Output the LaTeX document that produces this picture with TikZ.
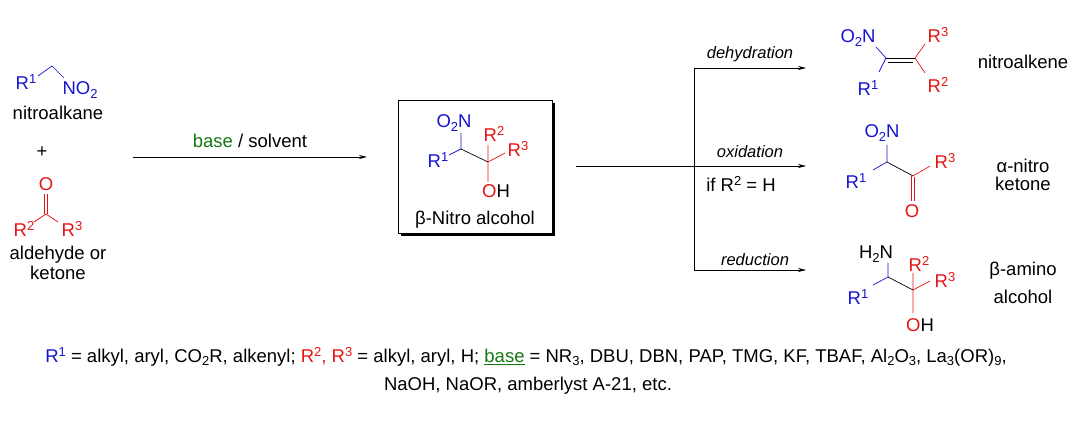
\documentclass[tikz,border=0pt]{standalone}
\usepackage{fontspec}
\setmainfont{Liberation Sans}
\usetikzlibrary{arrows.meta}
\definecolor{bl}{RGB}{20,20,210}
\definecolor{rd}{RGB}{230,20,20}
\definecolor{gr}{RGB}{20,120,20}
\newcommand{\Sp}[1]{\raisebox{0.6ex}{\fontsize{13}{14}\selectfont #1}}
\newcommand{\Sb}[1]{\raisebox{-0.35ex}{\fontsize{13}{14}\selectfont #1}}
\begin{document}
\begin{tikzpicture}[x=1pt,y=-1pt,font=\fontsize{18.5}{22}\selectfont,
  every node/.style={inner sep=0pt},
  b/.style={text=bl}, r/.style={text=rd},
  bb/.style={draw=bl,line width=0.7pt}, rb/.style={draw=rd,line width=0.7pt}, kb/.style={draw=black,line width=0.7pt},
  arr/.style={draw=black,line width=0.7pt,-{Stealth[length=8pt,width=4pt]}},
  it/.style={font=\fontsize{16.5}{18}\selectfont\itshape}]
\useasboundingbox (0,0) rectangle (1081,427);
% nitroalkane
\node[b] (r1a) at (26,82) {R\Sp{1}};
\node[b] (no2a) at (80,90) {NO\Sb{2}};
\coordinate (ca) at (52,66);
\draw[bb] (38,76) -- (ca) -- (64,78);
\node (t1) at (58,113) {nitroalkane};
\node (plus) at (42,152) {+};
% ketone
\node[r] (oa) at (46,184) {O};
\coordinate (kc) at (46,214);
\draw[rb] (44.5,194) -- (44.5,214) (47.5,194) -- (47.5,214);
\draw[rb] (34,222) -- (kc) -- (58,222);
\node[r] (r2a) at (24,229) {R\Sp{2}};
\node[r] (r3a) at (72,229) {R\Sp{3}};
\node (t2) at (58,255) {aldehyde or};
\node (t3) at (58,273) {ketone};
% main arrow
\coordinate (m1) at (133,157); \coordinate (m2) at (367,157);
\draw[arr] (m1) -- (m2);
\node (bs) at (250,141) {\textcolor{gr}{base} / solvent};
% box
\fill (401,103) rectangle (555,236);
\draw[fill=white,line width=0.8pt] (398,100) rectangle (552,233);
\node[b] (o2nb) at (454,123) {O\Sb{2}N};
\node[b] (r1b) at (438,160) {R\Sp{1}};
\node[r] (r2b) at (494,134) {R\Sp{2}};
\node[r] (r3b) at (518,149) {R\Sp{3}};
\node (ohb) at (496,191) {\textcolor{rd}{O}H};
\coordinate (c1b) at (461,149); \coordinate (c2b) at (488,162);
\draw[bb] (461,133) -- (c1b) -- (449,155);
\draw[kb] (c1b) -- (c2b);
\draw[rb] (488,145) -- (c2b) -- (505,153) (c2b) -- (488,182);
\node (tb) at (475,220) {β-Nitro alcohol};
% branching
\coordinate (s1) at (576,166); \coordinate (j) at (694,166);
\coordinate (ja) at (694,68); \coordinate (jc) at (694,270);
\draw[kb] (s1) -- (j) (ja) -- (jc);
\coordinate (ea) at (806,68); \coordinate (eb) at (806,166); \coordinate (ec) at (806,270);
\draw[arr] (ja) -- (ea);
\draw[arr] (j) -- (eb);
\draw[arr] (jc) -- (ec);
\node[it] (la) at (750,54) {dehydration};
\node[it] (lb) at (750,152) {oxidation};
\node (lb2) at (741,184) {if R\Sp{2} = H};
\node[it] (lc) at (755,260) {reduction};
% nitroalkene
\node[b] (o2nc) at (858,38) {O\Sb{2}N};
\node[b] (r1c) at (868,88) {R\Sp{1}};
\node[r] (r3c) at (938,35) {R\Sp{3}};
\node[r] (r2c) at (938,85) {R\Sp{2}};
\coordinate (cc1) at (886,58); \coordinate (cc2) at (915,58);
\draw[bb] (876,47) -- (cc1) -- (879,72);
\draw[kb] (cc1) -- (cc2) (888,62) -- (913,62);
\draw[rb] (cc2) -- (925,44) (cc2) -- (925,73);
\node (tna) at (1023,62) {nitroalkene};
% alpha-nitro ketone
\node[b] (o2nd) at (882,133) {O\Sb{2}N};
\node[b] (r1d) at (856,181) {R\Sp{1}};
\node[r] (r3d) at (945,161) {R\Sp{3}};
\node[r] (od) at (912,211) {O};
\coordinate (cd1) at (887,162); \coordinate (cd2) at (913,176);
\draw[bb] (887,145) -- (cd1) -- (873,170);
\draw[kb] (cd1) -- (cd2);
\draw[rb] (cd2) -- (930,166) (911.5,176) -- (911.5,201) (914.5,177) -- (914.5,201);
\node (tnk1) at (1023,166) {α-nitro};
\node (tnk2) at (1023,184) {ketone};
% beta-amino alcohol
\node (h2n) at (876,254) {H\Sb{2}N};
\node[b] (r1e) at (858,297) {R\Sp{1}};
\node[r] (r2e) at (919,264) {R\Sp{2}};
\node[r] (r3e) at (945,280) {R\Sp{3}};
\node (ohe) at (920,325) {\textcolor{rd}{O}H};
\coordinate (ce1) at (888,277); \coordinate (ce2) at (913,290);
\draw[bb] (888,263) -- (ce1) -- (873,285);
\draw[kb] (ce1) -- (ce2);
\draw[rb] (913,273) -- (ce2) -- (930,281) (ce2) -- (913,313);
\node (tba1) at (1023,271) {β-amino};
\node (tba2) at (1023,297) {alcohol};
% footnote
\node (f1) at (526,357) {\textcolor{bl}{R\Sp{1}} = alkyl, aryl, CO\Sb{2}R, alkenyl; \textcolor{rd}{R\Sp{2}, R\Sp{3}} = alkyl, aryl, H; \textcolor{gr}{\underline{base}} = NR\Sb{3}, DBU, DBN, PAP, TMG, KF, TBAF, Al\Sb{2}O\Sb{3}, La\Sb{3}(OR)\Sb{9},};
\node (f2) at (528,386) {NaOH, NaOR, amberlyst A-21, etc.};
\end{tikzpicture}
\end{document}
